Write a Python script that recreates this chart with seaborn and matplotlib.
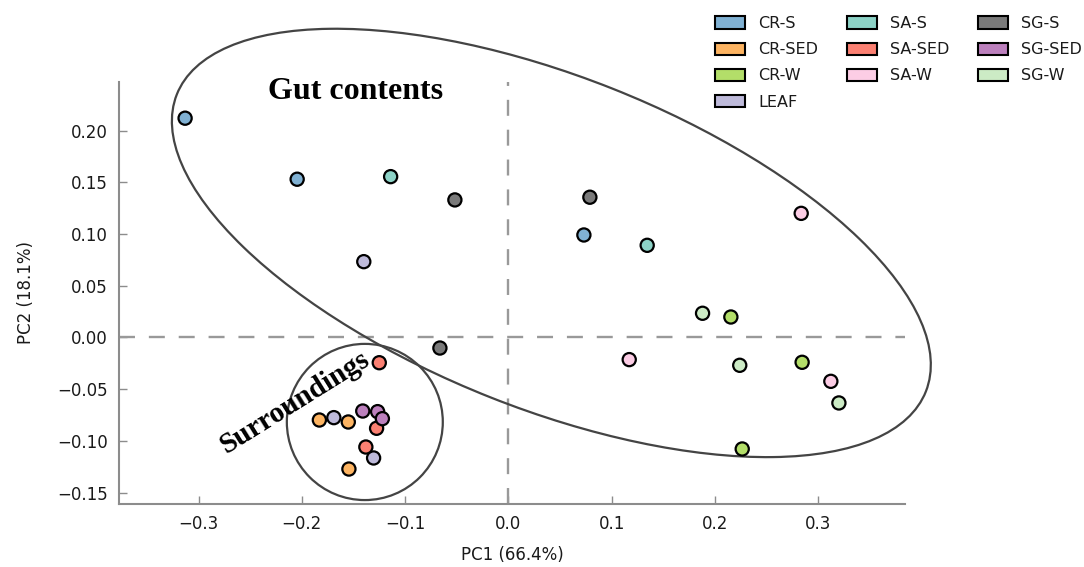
import matplotlib
matplotlib.use("Agg")
import matplotlib.pyplot as plt
from matplotlib.patches import Ellipse, Patch
import seaborn as sns
import pandas as pd

# ---- data ----
groups = ["CR-S", "CR-S", "CR-S",
          "CR-SED", "CR-SED", "CR-SED",
          "CR-W", "CR-W", "CR-W",
          "LEAF", "LEAF", "LEAF",
          "SA-S", "SA-S",
          "SA-SED", "SA-SED", "SA-SED",
          "SA-W", "SA-W", "SA-W",
          "SG-S", "SG-S", "SG-S",
          "SG-SED", "SG-SED", "SG-SED",
          "SG-W", "SG-W", "SG-W"]
pc1 = [-0.313, -0.2045, 0.0731,
       -0.183, -0.155, -0.1544,
       0.2154, 0.2844, 0.2264,
       -0.140, -0.169, -0.1305,
       -0.114, 0.1344,
       -0.125, -0.1276, -0.138,
       0.2835, 0.117, 0.3122,
       -0.0518, 0.0789, -0.0663,
       -0.141, -0.1266, -0.122,
       0.188, 0.224, 0.320]
pc2 = [0.212, 0.153, 0.0991,
       -0.0798, -0.0817, -0.1272,
       0.0198, -0.024, -0.1078,
       0.0733, -0.0775, -0.1165,
       0.1555, 0.0891,
       -0.0244, -0.0878, -0.1059,
       0.120, -0.0214, -0.0424,
       0.133, 0.1356, -0.0102,
       -0.0711, -0.0717, -0.0785,
       0.0234, -0.0269, -0.0633]

legend_order = ["CR-S", "CR-SED", "CR-W", "LEAF",
                "SA-S", "SA-SED", "SA-W",
                "SG-S", "SG-SED", "SG-W"]
colors = ["#80b1d3", "#fdb462", "#b3de69", "#bebada",
          "#8dd3c7", "#fb8072", "#fccde5",
          "#7a7a7a", "#bc80bd", "#ccebc5"]
palette = dict(zip(legend_order, colors))

x_ticks = [-0.3, -0.2, -0.1, 0.0, 0.1, 0.2, 0.3]
y_ticks = [-0.15, -0.10, -0.05, 0.00, 0.05, 0.10, 0.15, 0.20]

df = pd.DataFrame({"group": groups, "PC1": pc1, "PC2": pc2})

# ---- style ----
sns.set_style("white")
plt.rcParams["font.family"] = ["DejaVu Sans"]
plt.rcParams["lines.scale_dashes"] = False
plt.rcParams["text.color"] = "black"

fig = plt.figure(figsize=(10.84, 5.67), dpi=100)
ax = fig.add_axes([119 / 1084, 63 / 567, (905 - 119) / 1084, (504 - 82) / 567])

ax.axhline(0, color="#999999", lw=1.7, ls=(0, (11.5, 10)), zorder=1)
ax.axvline(0, color="#999999", lw=1.7, ls=(0, (11.5, 10)), zorder=1)

sns.scatterplot(data=df, x="PC1", y="PC2", hue="group", hue_order=legend_order,
                palette=palette, s=90, edgecolor="black", linewidth=1.6,
                legend=False, ax=ax, zorder=3)

ax.set_xlim(-0.377, 0.384)
ax.set_ylim(-0.161, 0.247)
ax.set_xticks(x_ticks)
ax.set_yticks(y_ticks)

for s in ["top", "right"]:
    ax.spines[s].set_visible(False)
for s in ["left", "bottom"]:
    ax.spines[s].set_color("#8c8c8c")
    ax.spines[s].set_linewidth(1.5)
ax.tick_params(axis="both", direction="in", length=6, width=1, color="#8c8c8c",
               labelsize=12, labelcolor="#1a1a1a", pad=8, top=False, right=False,
               bottom=True, left=True)

ax.set_xlabel("PC1 (66.4%)", fontsize=12, color="#1a1a1a", labelpad=9)
ax.set_ylabel("PC2 (18.1%)", fontsize=12, color="#1a1a1a", labelpad=16)

# ellipses
ax.add_patch(Ellipse((0.0416, 0.0914), 0.780, 0.321, angle=-21.6, fill=False,
                     edgecolor="#444444", lw=1.6, clip_on=False, zorder=2))
ax.add_patch(Ellipse((-0.139, -0.0817), 0.151, 0.151, fill=False,
                     edgecolor="#444444", lw=1.6, clip_on=False, zorder=2))

ax.text(-0.148, 0.2374, "Gut contents", family="Liberation Serif", weight="bold",
        fontsize=23, ha="center", va="center", color="black", zorder=4)
ax.text(-0.2067, -0.0624, "Surroundings", family="Liberation Serif", weight="bold",
        fontsize=21, ha="center", va="center", rotation=32, color="black",
        rotation_mode="anchor", zorder=4)

handles = [Patch(facecolor=palette[g], edgecolor="black", lw=1.5, label=g)
           for g in legend_order]
leg = fig.legend(handles=handles, loc="upper left",
                 bbox_to_anchor=(715 / 1084, 1 - 16 / 567),
                 ncol=3, frameon=False, fontsize=11.5, borderpad=0, borderaxespad=0,
                 handlelength=1.9, handleheight=0.8, handletextpad=0.8,
                 columnspacing=1.8, labelspacing=0.7)
for t in leg.get_texts():
    t.set_color("#1a1a1a")

fig.savefig("out.png", dpi=100)
